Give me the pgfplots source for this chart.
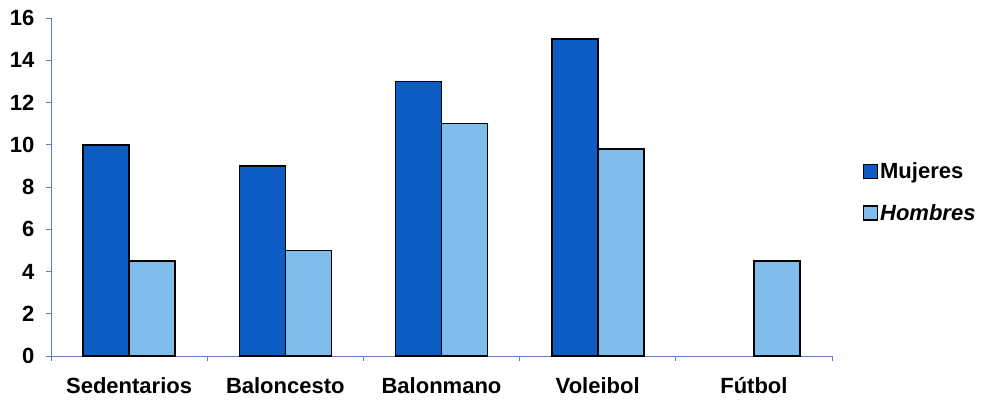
\documentclass[border=0pt]{standalone}
\usepackage{pgfplots}
\pgfplotsset{compat=1.18}
\usepackage{fontspec}
\setmainfont{Liberation Sans}
\definecolor{muj}{RGB}{12,92,196}
\definecolor{hom}{RGB}{128,188,234}
\definecolor{axc}{RGB}{90,130,190}
\begin{document}
\begin{tikzpicture}
\begin{axis}[
  scale only axis, width=781pt, height=338pt,
  ymin=0, ymax=16, ytick={0,2,...,16},
  xmin=-0.5, xmax=4.5,
  xtick={0,1,2,3,4},
  xticklabels={Sedentarios,Baloncesto,Balonmano,Voleibol,F\'utbol},
  minor xtick={-0.5,0.5,1.5,2.5,3.5,4.5},
  major x tick style={draw=none},
  axis x line=bottom, axis y line=left,
  axis line style={-, draw=axc, line width=0.8pt},
  tick style={draw=axc, line width=0.8pt},
  tick align=outside, major tick length=5pt, minor tick length=5pt,
  /pgf/number format/assume math mode=true,
  ticklabel style={font=\bfseries\fontsize{22}{22}\selectfont},
  xticklabel style={yshift=-13pt},
  yticklabel style={xshift=-8pt},
  ybar=0pt, bar width=46pt,
  clip=false,
  legend style={at={(1.035,0.485)}, anchor=west, draw=none, fill=none,
    font=\bfseries\fontsize{22}{22}\selectfont, row sep=20pt,
    /tikz/every even column/.append style={column sep=6pt}},
  legend cell align=left,
  legend image code/.code={\draw[#1, line width=1.6pt] (0pt,-7pt) rectangle (14pt,7pt);},
]
\addplot[fill=muj, draw=black, line width=1.6pt] coordinates {(0,10) (1,9) (2,13) (3,15)};
\addplot[fill=hom, draw=black, line width=1.6pt] coordinates {(0,4.5) (1,5) (2,11) (3,9.8) (4,4.5)};
\legend{Mujeres,\textit{Hombres}}
\path (rel axis cs:0,0) ++(-51pt,-45pt) coordinate (bl);
\path (rel axis cs:1,1) ++(152pt,18pt) coordinate (tr);
\end{axis}
\useasboundingbox (bl) rectangle (tr);
\end{tikzpicture}
\end{document}
